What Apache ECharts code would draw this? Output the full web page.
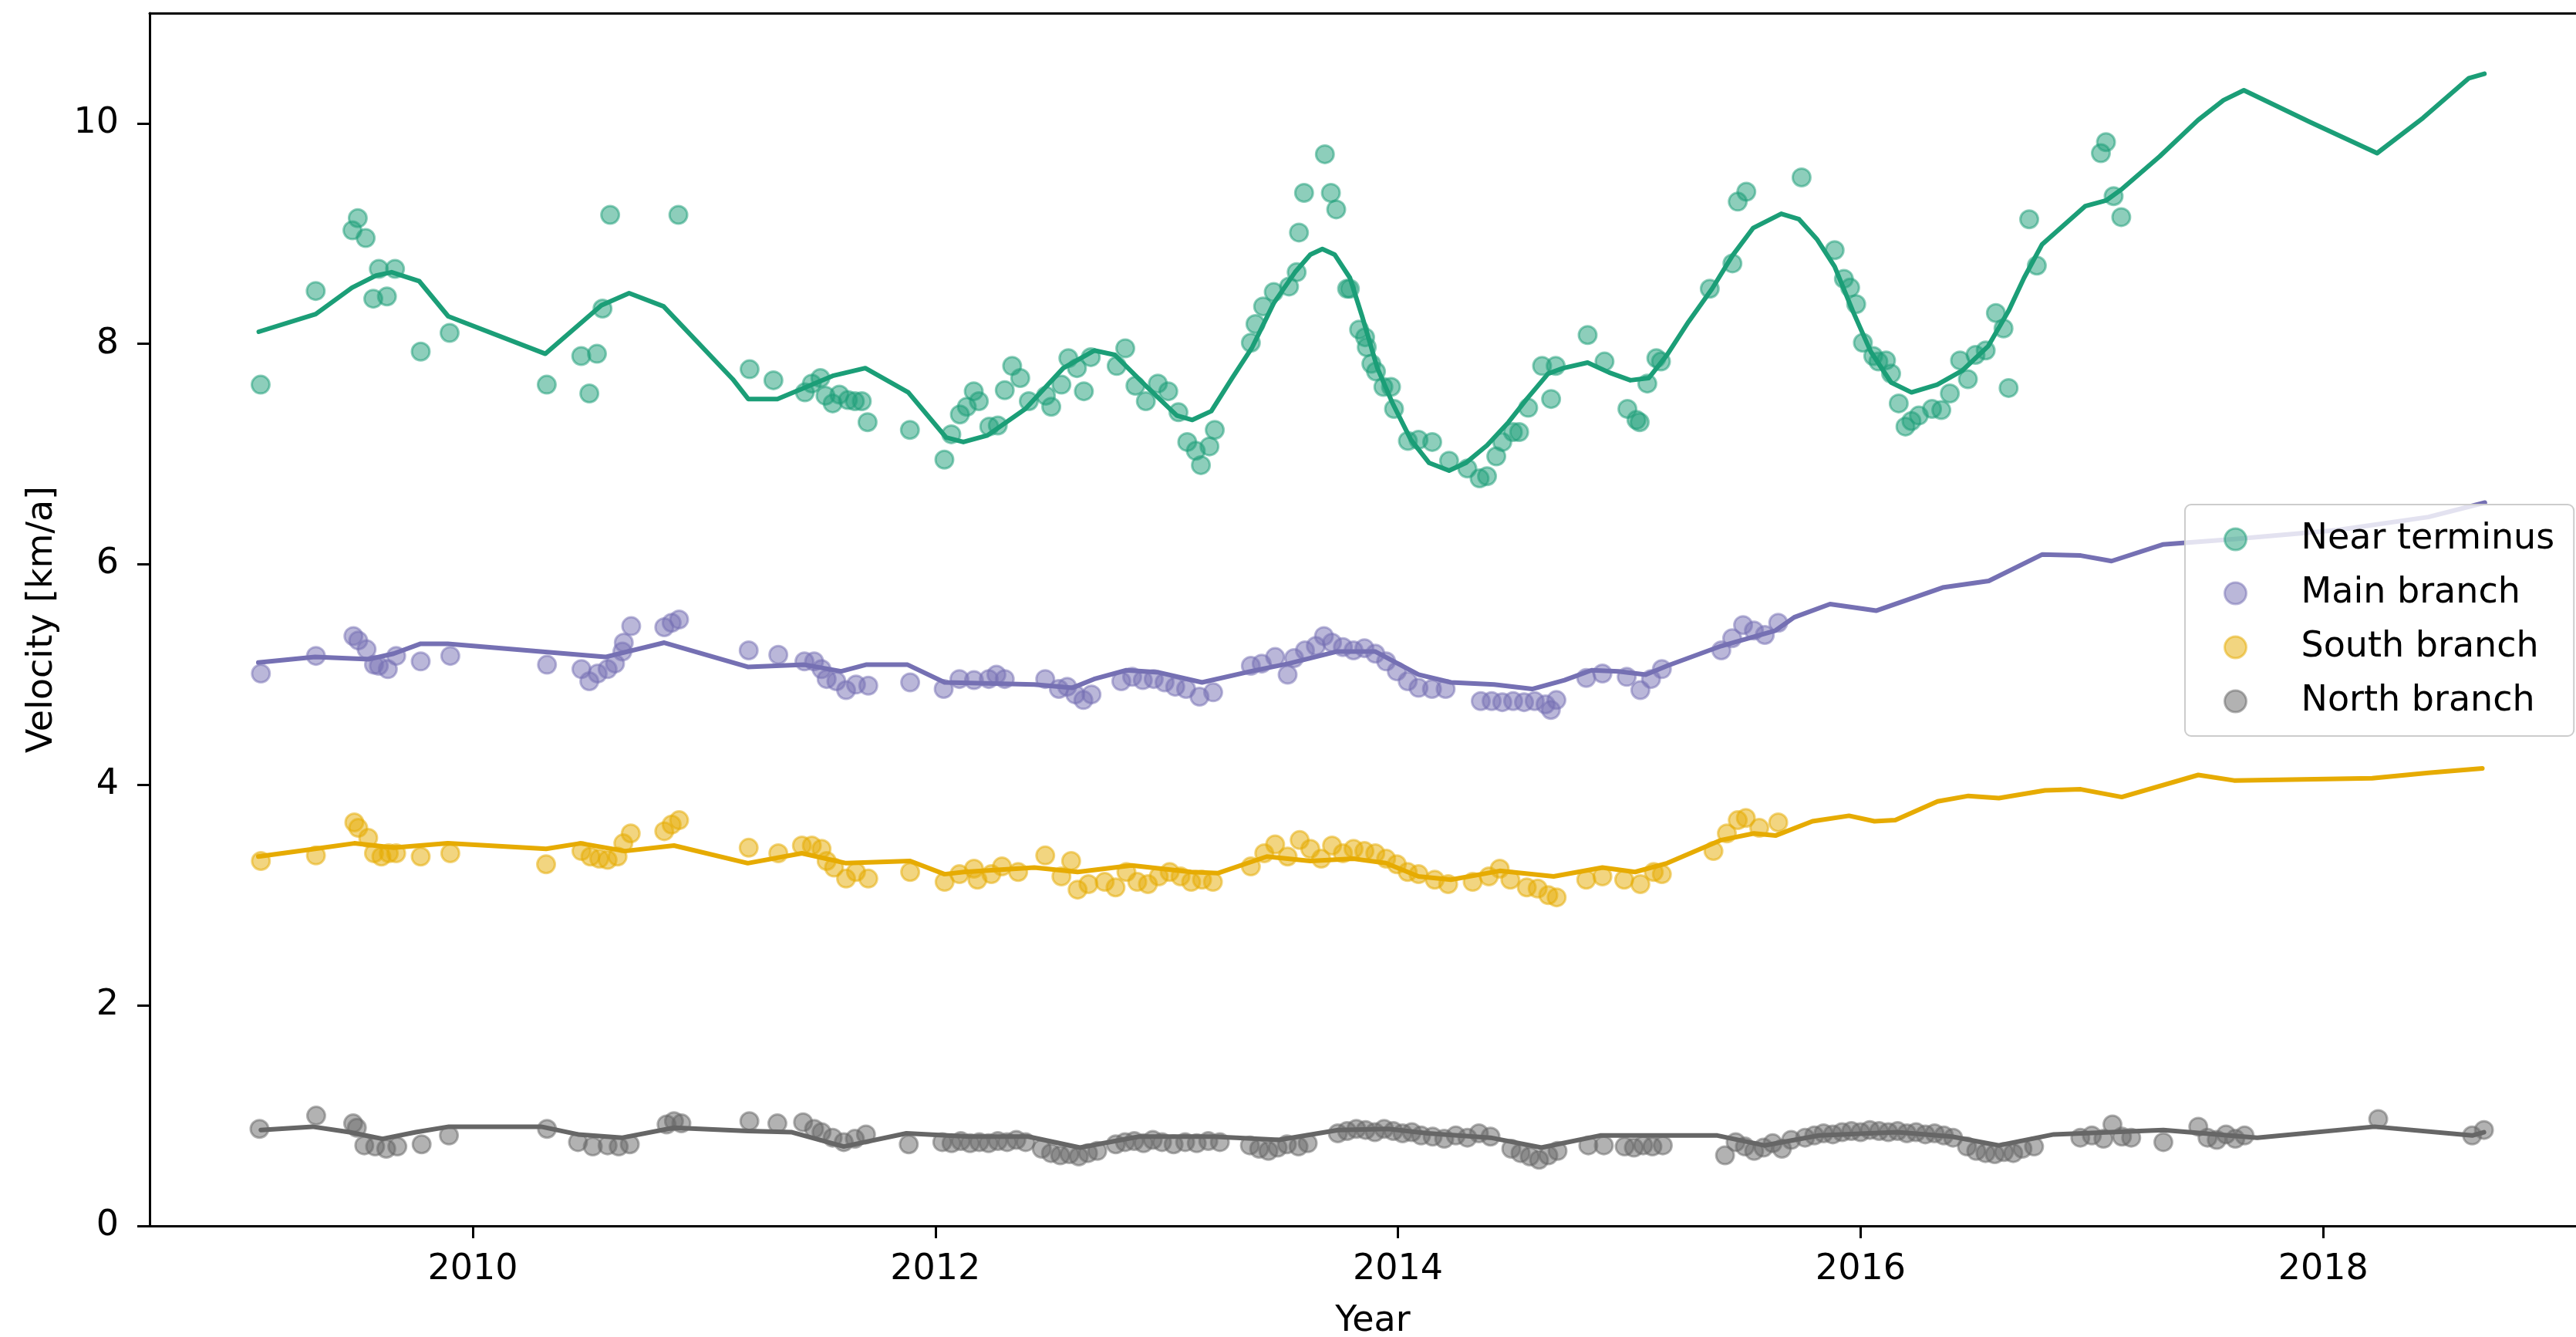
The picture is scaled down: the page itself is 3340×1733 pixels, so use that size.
<!DOCTYPE html>
<html>
<head>
<meta charset="utf-8">
<script src="https://cdn.jsdelivr.net/npm/echarts@6/dist/echarts.min.js"></script>
<style>
  html, body { margin: 0; padding: 0; background: #ffffff; }
  #chart { width: 3340px; height: 1733px; }
</style>
</head>
<body>
<div id="chart"></div>
<script>
// Glacier velocity observations (decimal year, km/a) and their smoothed trends.
const seriesNames = ['Near terminus', 'Main branch', 'South branch', 'North branch'];
const xTicks = [2010, 2012, 2014, 2016, 2018];
const yTicks = [0, 2, 4, 6, 8, 10];

const nearTerminusObs = [
  [2009.083,7.63],[2009.321,8.48],[2009.480,9.03],[2009.503,9.14],[2009.537,8.96],[2009.570,8.41],[2009.594,8.68],[2009.629,8.43],[2009.664,8.68],[2009.775,7.93],[2009.900,8.10],
  [2010.320,7.63],[2010.469,7.89],[2010.504,7.55],[2010.537,7.91],[2010.561,8.32],[2010.594,9.17],[2010.889,9.17],
  [2011.197,7.77],[2011.300,7.67],[2011.436,7.56],[2011.466,7.64],[2011.503,7.69],[2011.525,7.53],[2011.556,7.46],[2011.585,7.54],[2011.622,7.49],[2011.652,7.48],[2011.682,7.48],[2011.707,7.29],[2011.890,7.22],
  [2012.039,6.95],[2012.069,7.18],[2012.106,7.36],[2012.136,7.43],[2012.166,7.57],[2012.188,7.48],[2012.233,7.25],[2012.270,7.26],[2012.300,7.58],[2012.332,7.80],[2012.367,7.69],[2012.404,7.48],[2012.478,7.53],[2012.501,7.43],[2012.545,7.63],[2012.575,7.87],[2012.612,7.78],[2012.642,7.57],[2012.672,7.88],[2012.784,7.80],[2012.821,7.96],[2012.865,7.62],[2012.910,7.48],[2012.962,7.64],
  [2013.007,7.57],[2013.051,7.38],[2013.089,7.11],[2013.126,7.03],[2013.148,6.90],[2013.185,7.07],[2013.208,7.22],[2013.364,8.01],[2013.384,8.18],[2013.417,8.34],[2013.463,8.47],[2013.529,8.52],[2013.562,8.65],[2013.572,9.01],[2013.594,9.37],[2013.684,9.72],[2013.710,9.37],[2013.733,9.22],[2013.780,8.50],[2013.792,8.50],[2013.832,8.13],[2013.858,8.06],[2013.865,7.97],[2013.885,7.82],[2013.905,7.75],[2013.937,7.61],[2013.970,7.61],[2013.983,7.41],
  [2014.043,7.12],[2014.089,7.13],[2014.148,7.11],[2014.221,6.94],[2014.300,6.87],[2014.353,6.78],[2014.385,6.80],[2014.425,6.98],[2014.451,7.11],[2014.497,7.20],[2014.524,7.20],[2014.563,7.42],[2014.623,7.80],[2014.662,7.50],[2014.682,7.80],[2014.820,8.08],[2014.893,7.84],[2014.992,7.41],
  [2015.031,7.31],[2015.045,7.29],[2015.078,7.64],[2015.117,7.87],[2015.137,7.84],[2015.348,8.50],[2015.446,8.73],[2015.469,9.29],[2015.506,9.38],[2015.745,9.51],[2015.888,8.85],[2015.928,8.59],[2015.955,8.51],[2015.981,8.36],
  [2016.010,8.01],[2016.055,7.89],[2016.077,7.84],[2016.110,7.85],[2016.132,7.73],[2016.165,7.46],[2016.194,7.25],[2016.220,7.30],[2016.252,7.35],[2016.309,7.41],[2016.349,7.40],[2016.386,7.55],[2016.430,7.85],[2016.464,7.68],[2016.497,7.90],[2016.541,7.94],[2016.585,8.28],[2016.618,8.14],[2016.640,7.60],[2016.729,9.13],[2016.762,8.71],
  [2017.039,9.73],[2017.061,9.83],[2017.094,9.34],[2017.127,9.15]
];
const nearTerminusTrend = [
  [2009.075,8.11],[2009.321,8.27],[2009.478,8.51],[2009.582,8.62],[2009.649,8.65],[2009.768,8.57],[2009.894,8.25],[2010.314,7.91],[2010.556,8.35],[2010.676,8.46],[2010.825,8.34],[2011.124,7.68],[2011.191,7.50],[2011.317,7.50],[2011.421,7.59],[2011.556,7.71],[2011.697,7.78],[2011.883,7.56],
  [2012.047,7.15],[2012.121,7.11],[2012.225,7.17],[2012.389,7.41],[2012.553,7.78],[2012.687,7.94],[2012.776,7.90],[2012.910,7.62],[2013.044,7.35],[2013.111,7.31],[2013.193,7.39],[2013.283,7.69],[2013.370,7.97],[2013.463,8.37],[2013.555,8.65],[2013.621,8.81],[2013.673,8.86],[2013.726,8.81],[2013.792,8.60],[2013.845,8.25],[2013.911,7.78],[2013.977,7.46],
  [2014.056,7.13],[2014.135,6.92],[2014.221,6.85],[2014.293,6.92],[2014.385,7.08],[2014.478,7.29],[2014.557,7.50],[2014.649,7.73],[2014.715,7.78],[2014.820,7.83],[2014.913,7.74],[2015.005,7.67],[2015.084,7.69],[2015.163,7.90],[2015.256,8.20],[2015.358,8.50],[2015.446,8.80],[2015.535,9.05],[2015.657,9.18],[2015.734,9.13],[2015.811,8.95],[2015.888,8.70],[2015.966,8.30],
  [2016.044,7.93],[2016.132,7.65],[2016.220,7.56],[2016.331,7.63],[2016.441,7.76],[2016.552,7.98],[2016.640,8.30],[2016.707,8.60],[2016.784,8.90],[2016.972,9.25],[2017.061,9.30],[2017.127,9.40],[2017.293,9.70],[2017.459,10.03],[2017.569,10.21],[2017.657,10.30],[2017.945,10.01],[2018.233,9.73],[2018.432,10.05],[2018.630,10.41],[2018.697,10.45]
];

const mainBranchObs = [
  [2009.084,5.01],[2009.322,5.17],[2009.484,5.35],[2009.505,5.31],[2009.541,5.23],[2009.573,5.09],[2009.594,5.08],[2009.633,5.05],[2009.669,5.17],[2009.775,5.12],[2009.903,5.17],
  [2010.321,5.09],[2010.470,5.05],[2010.504,4.94],[2010.540,5.01],[2010.583,5.05],[2010.615,5.10],[2010.647,5.21],[2010.653,5.29],[2010.685,5.44],[2010.828,5.43],[2010.860,5.47],[2010.892,5.50],
  [2011.193,5.22],[2011.321,5.18],[2011.434,5.12],[2011.476,5.12],[2011.508,5.05],[2011.530,4.96],[2011.572,4.94],[2011.614,4.86],[2011.657,4.91],[2011.710,4.90],[2011.891,4.93],
  [2012.036,4.87],[2012.104,4.96],[2012.167,4.95],[2012.231,4.96],[2012.264,5.00],[2012.300,4.96],[2012.475,4.96],[2012.534,4.87],[2012.570,4.89],[2012.605,4.82],[2012.640,4.77],[2012.675,4.82],[2012.804,4.94],[2012.851,4.98],[2012.897,4.95],[2012.944,4.96],[2012.991,4.93],
  [2013.037,4.89],[2013.084,4.87],[2013.142,4.80],[2013.201,4.84],[2013.364,5.08],[2013.411,5.10],[2013.469,5.16],[2013.523,5.00],[2013.551,5.15],[2013.598,5.22],[2013.645,5.26],[2013.680,5.35],[2013.715,5.29],[2013.762,5.25],[2013.808,5.22],[2013.855,5.24],[2013.902,5.19],[2013.949,5.12],[2013.995,5.03],
  [2014.042,4.94],[2014.089,4.88],[2014.147,4.87],[2014.206,4.87],[2014.358,4.76],[2014.405,4.76],[2014.451,4.75],[2014.498,4.76],[2014.545,4.75],[2014.591,4.76],[2014.638,4.73],[2014.661,4.68],[2014.685,4.77],[2014.814,4.97],[2014.884,5.01],[2014.989,4.98],
  [2015.048,4.86],[2015.094,4.96],[2015.141,5.05],[2015.398,5.22],[2015.445,5.33],[2015.492,5.45],[2015.539,5.40],[2015.586,5.36],[2015.644,5.47]
];
const mainBranchTrend = [
  [2009.073,5.11],[2009.318,5.16],[2009.552,5.14],[2009.658,5.19],[2009.775,5.28],[2009.892,5.28],[2010.573,5.16],[2010.828,5.29],[2011.189,5.07],[2011.434,5.09],[2011.593,5.03],[2011.700,5.09],[2011.880,5.09],
  [2012.040,4.93],[2012.428,4.91],[2012.592,4.88],[2012.686,4.96],[2012.826,5.04],[2012.966,5.02],[2013.153,4.93],[2013.364,5.03],[2013.527,5.10],[2013.738,5.21],[2013.901,5.21],
  [2014.089,5.00],[2014.229,4.93],[2014.416,4.91],[2014.580,4.87],[2014.720,4.95],[2014.837,5.04],[2014.954,5.03],[2015.071,5.00],[2015.164,5.08],[2015.398,5.26],[2015.632,5.40],[2015.713,5.52],[2015.868,5.64],
  [2016.067,5.58],[2016.355,5.79],[2016.554,5.85],[2016.786,6.09],[2016.952,6.08],[2017.085,6.03],[2017.306,6.18],[2017.615,6.23],[2018.057,6.31],[2018.455,6.43],[2018.699,6.56]
];

const southBranchObs = [
  [2009.084,3.31],[2009.322,3.36],[2009.488,3.66],[2009.505,3.61],[2009.548,3.52],[2009.573,3.38],[2009.605,3.35],[2009.637,3.38],[2009.669,3.38],[2009.775,3.35],[2009.903,3.38],
  [2010.317,3.28],[2010.470,3.40],[2010.509,3.35],[2010.547,3.33],[2010.583,3.32],[2010.626,3.35],[2010.651,3.47],[2010.683,3.56],[2010.828,3.58],[2010.860,3.64],[2010.892,3.68],
  [2011.193,3.43],[2011.321,3.38],[2011.423,3.45],[2011.466,3.45],[2011.508,3.42],[2011.530,3.31],[2011.562,3.25],[2011.614,3.15],[2011.657,3.21],[2011.710,3.15],[2011.891,3.21],
  [2012.040,3.12],[2012.104,3.19],[2012.167,3.24],[2012.182,3.14],[2012.242,3.19],[2012.288,3.26],[2012.358,3.21],[2012.475,3.36],[2012.545,3.17],[2012.587,3.31],[2012.615,3.05],[2012.662,3.10],[2012.732,3.12],[2012.779,3.07],[2012.826,3.21],[2012.873,3.12],[2012.919,3.10],[2012.966,3.17],
  [2013.013,3.21],[2013.060,3.17],[2013.106,3.12],[2013.153,3.14],[2013.200,3.12],[2013.364,3.26],[2013.422,3.38],[2013.469,3.46],[2013.523,3.35],[2013.575,3.50],[2013.621,3.42],[2013.668,3.33],[2013.715,3.45],[2013.762,3.38],[2013.808,3.42],[2013.855,3.40],[2013.902,3.38],[2013.949,3.33],[2013.995,3.28],
  [2014.042,3.21],[2014.089,3.19],[2014.159,3.14],[2014.217,3.10],[2014.323,3.12],[2014.393,3.17],[2014.440,3.24],[2014.486,3.14],[2014.557,3.07],[2014.604,3.06],[2014.650,3.00],[2014.686,2.98],[2014.814,3.14],[2014.884,3.17],[2014.978,3.14],
  [2015.048,3.10],[2015.106,3.21],[2015.141,3.19],[2015.364,3.40],[2015.422,3.56],[2015.469,3.68],[2015.504,3.70],[2015.562,3.61],[2015.644,3.66]
];
const southBranchTrend = [
  [2009.073,3.35],[2009.318,3.42],[2009.488,3.47],[2009.658,3.43],[2009.892,3.47],[2010.317,3.42],[2010.466,3.47],[2010.658,3.40],[2010.870,3.45],[2011.189,3.29],[2011.423,3.38],[2011.614,3.29],[2011.891,3.31],
  [2012.040,3.19],[2012.124,3.21],[2012.428,3.25],[2012.615,3.21],[2012.849,3.27],[2013.106,3.21],[2013.223,3.20],[2013.433,3.35],[2013.621,3.31],[2013.808,3.33],[2013.948,3.29],
  [2014.089,3.17],[2014.229,3.14],[2014.440,3.22],[2014.673,3.17],[2014.884,3.25],[2015.025,3.21],[2015.164,3.29],[2015.398,3.50],[2015.539,3.56],[2015.632,3.54],[2015.792,3.67],[2015.950,3.72],
  [2016.060,3.67],[2016.150,3.68],[2016.333,3.85],[2016.466,3.90],[2016.598,3.88],[2016.797,3.95],[2016.952,3.96],[2017.129,3.89],[2017.460,4.09],[2017.615,4.04],[2018.212,4.06],[2018.455,4.11],[2018.688,4.15]
];

const northBranchObs = [
  [2009.078,0.88],[2009.323,1.00],[2009.483,0.93],[2009.499,0.89],[2009.531,0.73],[2009.578,0.72],[2009.626,0.70],[2009.674,0.72],[2009.779,0.74],[2009.897,0.82],
  [2010.321,0.88],[2010.455,0.76],[2010.519,0.72],[2010.583,0.73],[2010.631,0.72],[2010.679,0.74],[2010.838,0.92],[2010.870,0.95],[2010.902,0.93],
  [2011.196,0.95],[2011.317,0.93],[2011.428,0.94],[2011.476,0.88],[2011.508,0.85],[2011.556,0.80],[2011.604,0.76],[2011.652,0.79],[2011.700,0.83],[2011.885,0.74],
  [2012.03,0.76],[2012.07,0.75],[2012.11,0.77],[2012.15,0.75],[2012.19,0.76],[2012.23,0.75],[2012.27,0.77],[2012.31,0.76],[2012.35,0.78],[2012.39,0.76],
  [2012.46,0.70],[2012.50,0.66],[2012.54,0.64],[2012.58,0.65],[2012.62,0.63],[2012.66,0.66],[2012.70,0.68],
  [2012.78,0.74],[2012.82,0.76],[2012.86,0.77],[2012.90,0.75],[2012.94,0.78],[2012.98,0.76],[2013.03,0.74],[2013.08,0.76],[2013.13,0.75],[2013.18,0.77],[2013.23,0.76],
  [2013.36,0.73],[2013.40,0.70],[2013.44,0.68],[2013.48,0.71],[2013.52,0.74],[2013.57,0.72],[2013.61,0.75],
  [2013.74,0.84],[2013.78,0.86],[2013.82,0.88],[2013.86,0.87],[2013.90,0.85],[2013.94,0.88],[2013.98,0.86],[2014.02,0.84],[2014.06,0.85],[2014.10,0.82],[2014.15,0.81],[2014.20,0.79],[2014.25,0.82],[2014.30,0.80],[2014.35,0.84],[2014.40,0.81],
  [2014.49,0.70],[2014.53,0.66],[2014.57,0.63],[2014.61,0.60],[2014.65,0.64],[2014.69,0.68],
  [2014.823,0.73],[2014.890,0.73],[2014.98,0.72],[2015.02,0.71],[2015.06,0.73],[2015.10,0.72],[2015.145,0.73],
  [2015.414,0.64],[2015.46,0.76],[2015.50,0.72],[2015.54,0.68],[2015.58,0.71],[2015.62,0.75],[2015.66,0.70],[2015.70,0.78],
  [2015.76,0.80],[2015.80,0.82],[2015.84,0.84],[2015.88,0.83],[2015.92,0.85],[2015.96,0.86],[2016.00,0.85],[2016.04,0.87],[2016.08,0.86],[2016.12,0.85],[2016.16,0.86],[2016.20,0.84],[2016.24,0.85],[2016.28,0.83],[2016.32,0.84],[2016.36,0.82],[2016.40,0.80],
  [2016.46,0.72],[2016.50,0.68],[2016.54,0.66],[2016.58,0.65],[2016.62,0.67],[2016.66,0.66],[2016.70,0.70],[2016.75,0.72],
  [2016.95,0.80],[2017.00,0.82],[2017.05,0.79],[2017.089,0.92],[2017.13,0.81],[2017.17,0.80],
  [2017.309,0.76],[2017.460,0.90],[2017.50,0.80],[2017.54,0.78],[2017.58,0.83],[2017.62,0.79],[2017.66,0.82],
  [2018.238,0.97],[2018.644,0.82],[2018.695,0.87]
];
const northBranchTrend = [
  [2009.084,0.87],[2009.307,0.90],[2009.467,0.85],[2009.610,0.79],[2009.754,0.85],[2009.897,0.90],[2010.296,0.90],[2010.455,0.83],[2010.647,0.80],[2010.870,0.89],[2011.189,0.86],[2011.380,0.85],[2011.604,0.72],[2011.875,0.84],
  [2012.146,0.81],[2012.402,0.81],[2012.625,0.71],[2012.880,0.81],[2013.199,0.81],[2013.486,0.78],[2013.741,0.87],[2013.958,0.88],[2014.129,0.84],[2014.400,0.80],[2014.620,0.71],[2014.874,0.82],
  [2015.381,0.82],[2015.584,0.73],[2015.820,0.82],[2016.158,0.85],[2016.395,0.81],[2016.598,0.73],[2016.835,0.83],[2017.309,0.87],[2017.715,0.80],[2018.222,0.90],[2018.644,0.82],[2018.695,0.85]
];

const observations = [nearTerminusObs, mainBranchObs, southBranchObs, northBranchObs];
const trends = [nearTerminusTrend, mainBranchTrend, southBranchTrend, northBranchTrend];

// Dark2 palette
const palette = ['#1b9e77', '#7570b3', '#e6ab02', '#666666'];
function rgba(hex, a) {
  const n = parseInt(hex.slice(1), 16);
  return 'rgba(' + ((n >> 16) & 255) + ',' + ((n >> 8) & 255) + ',' + (n & 255) + ',' + a + ')';
}

const FONT = 'DejaVu Sans';
const FS = 46;
const X_MIN = 2008.603, X_MAX = 2019.093;
const spine = { show: true, lineStyle: { color: '#000000', width: 3 } };

const series = [];
seriesNames.forEach((name, i) => {
  series.push({
    name: name,
    type: 'scatter',
    data: observations[i],
    symbol: 'circle',
    symbolSize: 23,
    itemStyle: { color: rgba(palette[i], 0.5), borderColor: rgba(palette[i], 0.5), borderWidth: 3, opacity: 1 },
    z: 2,
    silent: true
  });
});
seriesNames.forEach((name, i) => {
  series.push({
    name: name + ' (smoothed)',
    type: 'line',
    data: trends[i],
    showSymbol: false,
    symbol: 'none',
    lineStyle: { color: palette[i], width: 6, join: 'round', cap: 'round' },
    itemStyle: { color: palette[i] },
    z: 3,
    silent: true
  });
});

const chart = echarts.init(document.getElementById('chart'), null, { renderer: 'canvas' });
chart.setOption({
  animation: false,
  backgroundColor: '#ffffff',
  textStyle: { fontFamily: FONT },
  grid: { left: 194, top: 17, right: 0, bottom: 144, show: false, containLabel: false, outerBoundsMode: 'none' },
  xAxis: [
    {
      type: 'value',
      position: 'bottom',
      min: X_MIN, max: X_MAX,
      name: 'Year',
      nameLocation: 'middle',
      nameGap: 101,
      nameTextStyle: { fontFamily: FONT, fontSize: FS, color: '#000000', padding: [0, 0, 0, 26] },
      axisLine: spine,
      splitLine: { show: false },
      axisTick: { show: true, customValues: xTicks, length: 16, inside: false, lineStyle: { color: '#000000', width: 3 } },
      axisLabel: { customValues: xTicks, margin: 34, fontFamily: FONT, fontSize: FS, color: '#000000', formatter: v => String(v) }
    },
    {
      // top frame edge
      type: 'value',
      position: 'top',
      min: X_MIN, max: X_MAX,
      axisLine: spine,
      axisTick: { show: false },
      axisLabel: { show: false },
      splitLine: { show: false }
    }
  ],
  yAxis: {
    type: 'value',
    min: 0, max: 11,
    name: 'Velocity [km/a]',
    nameLocation: 'middle',
    nameGap: 116,
    nameTextStyle: { fontFamily: FONT, fontSize: FS, color: '#000000' },
    axisLine: spine,
    splitLine: { show: false },
    axisTick: { show: true, customValues: yTicks, length: 16, inside: false, lineStyle: { color: '#000000', width: 3 } },
    axisLabel: { customValues: yTicks, margin: 40, fontFamily: FONT, fontSize: FS, color: '#000000', formatter: v => String(v) }
  },
  legend: {
    orient: 'vertical',
    left: 2833, top: 654,
    padding: [22, 25, 22, 50],
    itemWidth: 28, itemHeight: 28, itemGap: 24,
    icon: 'circle',
    backgroundColor: 'rgba(255,255,255,0.8)',
    borderColor: '#cccccc', borderWidth: 2, borderRadius: 8,
    selectedMode: false,
    textStyle: { fontFamily: FONT, fontSize: FS, lineHeight: 46, color: '#000000', padding: [0, 0, 0, 66] },
    data: seriesNames.map((n, i) => ({
      name: n,
      itemStyle: { color: rgba(palette[i], 0.5), borderColor: rgba(palette[i], 0.5), borderWidth: 3 }
    }))
  },
  series: series
});
</script>
</body>
</html>
